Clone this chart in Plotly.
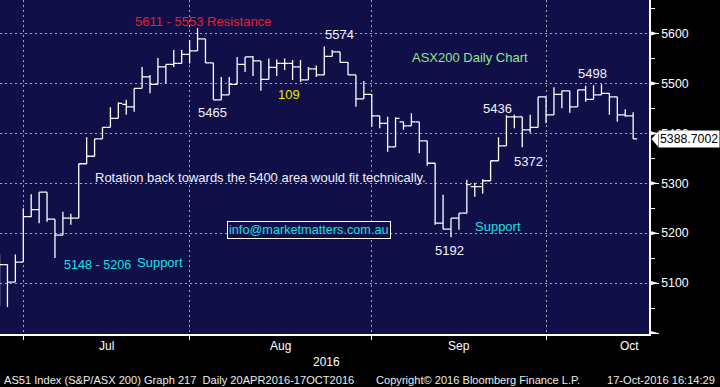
import pandas as pd
import plotly.graph_objects as go

# ---------------- data (ASX200 daily bars) ----------------
dates = [d.strftime("%Y-%m-%d") for d in pd.bdate_range("2016-06-27", "2016-10-17")]

opens = [5085, 5137, 5102, 5142, 5233, 5247, 5282, 5228, 5196, 5230,
         5230, 5339, 5354, 5389, 5412, 5430, 5458, 5453, 5490, 5513,
         5498, 5533, 5538, 5540, 5558, 5565, 5589, 5541, 5467, 5477,
         5498, 5538, 5553, 5545, 5508, 5532, 5540, 5540, 5533, 5507,
         5529, 5517, 5554, 5563, 5542, 5517, 5469, 5478, 5435, 5420,
         5373, 5423, 5415, 5423, 5385, 5340, 5220, 5208, 5230, 5240,
         5293, 5293, 5305, 5345, 5375, 5433, 5433, 5407, 5412, 5473,
         5437, 5478, 5485, 5453, 5487, 5468, 5477, 5480, 5473, 5437,
         5435]
highs = [5157, 5137, 5157, 5250, 5278, 5282, 5282, 5228, 5243, 5239,
         5339, 5392, 5389, 5412, 5452, 5462, 5467, 5490, 5533, 5517,
         5551, 5538, 5567, 5567, 5587, 5611, 5589, 5541, 5513, 5513,
         5553, 5553, 5555, 5545, 5550, 5548, 5550, 5547, 5547, 5533,
         5536, 5574, 5567, 5563, 5543, 5517, 5505, 5478, 5435, 5433,
         5432, 5423, 5440, 5423, 5385, 5340, 5277, 5230, 5240, 5307,
         5301, 5308, 5345, 5392, 5436, 5437, 5433, 5437, 5473, 5473,
         5492, 5485, 5485, 5487, 5495, 5496, 5498, 5480, 5473, 5448,
         5442]
lows = [5053, 5052, 5102, 5142, 5232, 5220, 5223, 5150, 5196, 5217,
        5230, 5339, 5354, 5389, 5412, 5430, 5437, 5443, 5490, 5480,
        5498, 5500, 5533, 5540, 5540, 5565, 5541, 5467, 5467, 5477,
        5498, 5523, 5515, 5485, 5508, 5515, 5527, 5507, 5503, 5507,
        5513, 5517, 5554, 5542, 5517, 5453, 5469, 5413, 5410, 5363,
        5373, 5407, 5415, 5360, 5335, 5217, 5208, 5192, 5207, 5240,
        5273, 5279, 5305, 5345, 5375, 5410, 5372, 5401, 5412, 5420,
        5437, 5450, 5441, 5453, 5463, 5468, 5477, 5437, 5423, 5433,
        5388.7]
closes = [5137, 5102, 5142, 5233, 5247, 5282, 5228, 5196, 5230, 5230,
          5339, 5354, 5389, 5412, 5430, 5460, 5453, 5490, 5513, 5498,
          5533, 5538, 5540, 5558, 5565, 5589, 5541, 5467, 5477, 5498,
          5538, 5553, 5545, 5508, 5532, 5540, 5540, 5533, 5507, 5529,
          5517, 5554, 5563, 5542, 5517, 5469, 5478, 5435, 5420, 5373,
          5430, 5415, 5423, 5385, 5340, 5220, 5208, 5230, 5240, 5297,
          5293, 5305, 5345, 5375, 5433, 5433, 5407, 5412, 5473, 5437,
          5478, 5485, 5453, 5487, 5468, 5477, 5480, 5473, 5437, 5435,
          5388.7]

last_price = 5388.7002
month_ends = ["2016-06-30", "2016-07-29", "2016-08-31", "2016-09-30"]
month_names = ["Jul", "Aug", "Sep", "Oct"]
y_ticks = [5000, 5100, 5200, 5300, 5400, 5500, 5600]
y_ticktext = ["", "5100", "5200", "5300", "5400", "5500", "5600"]

# ---------------- layout helpers ----------------
W, H = 720, 387
PL, PR, PT, PB = 0, 71, 0, 53          # margins
PW, PH = W - PL - PR, H - PT - PB      # plot area size
Y0, Y1 = 4998, 5667
X0, X1 = 0.06, 82.0

def px(x):  # pixel x -> paper
    return (x - PL) / PW

def py(y):  # pixel y -> paper
    return (PT + PH - y) / PH

FONT = "Liberation Sans, Arial, sans-serif"
NAVY = "#100f47"
GRID = "#a4a4b4"

fig = go.Figure()
fig.add_trace(go.Ohlc(
    x=dates, open=opens, high=highs, low=lows, close=closes,
    increasing=dict(line=dict(color="white", width=1.3)),
    decreasing=dict(line=dict(color="white", width=1.3)),
    tickwidth=0.5, showlegend=False, hoverinfo="skip",
))

annotations = []

def ann(text, x, y, color, size=13, xanchor="left", **kw):
    annotations.append(dict(text=text, x=px(x), y=py(y), xref="paper", yref="paper",
                            xanchor=xanchor, yanchor="middle", showarrow=False,
                            font=dict(family=FONT, size=size, color=color), **kw))

WHITE_T = "#f2f2ff"
RED = "#e8202c"
CYAN = "#16e0e8"
ann("5611 - 5553 Resistance", 133, 21, RED)
ann("5465", 196, 113, WHITE_T)
ann("109", 275.5, 94.5, "#e6e600")
ann("5574", 323, 34.5, WHITE_T)
ann("ASX200 Daily Chart", 410, 57.5, "#8ee88e")
ann("5498", 576, 73, WHITE_T)
ann("5436", 481, 108, WHITE_T)
ann("5372", 512, 161.5, WHITE_T)
ann("Rotation back towards the 5400 area would fit technically.", 93, 177, WHITE_T)
ann("info@marketmatters.com.au", 227.3, 229.5, CYAN, size=12.7, bordercolor="white",
    borderwidth=1, borderpad=1, bgcolor=NAVY)
ann("5148 - 5206", 61.5, 264.5, CYAN, size=12.6)
ann("Support", 134.5, 262, CYAN)
ann("5192", 433, 250, WHITE_T)
ann("Support", 473, 226, CYAN)

# month labels centred on each month's span of trading days
full_days = [d.strftime("%Y-%m-%d") for d in pd.bdate_range("2016-06-27", "2016-10-31")]
bounds = [full_days.index(m) for m in month_ends] + [len(full_days) - 1]
for name, a, b in zip(month_names, bounds[:-1], bounds[1:]):
    annotations.append(dict(text=name, x=(a + b) / 2, y=py(346), xref="x", yref="paper",
                            xanchor="center", yanchor="middle", showarrow=False,
                            font=dict(family=FONT, size=12, color="white")))
ann("2016", 326, 362, "white", size=12, xanchor="center")

NB = "\u00a0"
ann("AS51 Index (S&P/ASX 200) Graph 217" + NB * 2 + "Daily 20APR2016-17OCT2016", 1.5, 380,
    "#ececec", size=11.1)
ann("Copyright\u00a9 2016 Bloomberg Finance L.P.", 374, 380, "#ececec", size=11.1)
ann("17-Oct-2016 16:14:29", 717, 380, "#ececec", size=11.1, xanchor="right")

# last price flag
annotations.append(dict(text="5388.7002", x=px(657.5), y=last_price, xref="paper", yref="y",
                        xanchor="left", yanchor="middle", showarrow=False, bgcolor="white",
                        borderpad=1, font=dict(family=FONT, size=12.3, color="black")))

shapes = []
u = (Y1 - Y0) / PH  # price units per pixel
for t in y_ticks:
    shapes.append(dict(type="path", xref="paper", yref="y",
                       path=f"M {px(649)},{t - 2.6*u} L {px(658)},{t} L {px(649)},{t + 2.6*u} Z",
                       fillcolor="white", line=dict(width=0)))
shapes.append(dict(type="path", xref="paper", yref="y",
                   path=f"M {px(651.5)},{last_price} L {px(658)},{last_price + 7.5*u} "
                        f"L {px(658)},{last_price - 7.5*u} Z",
                   fillcolor="white", line=dict(width=0)))

fig.update_layout(
    width=W, height=H,
    margin=dict(l=PL, r=PR, t=PT, b=PB, pad=0),
    paper_bgcolor="black", plot_bgcolor=NAVY,
    annotations=annotations, shapes=shapes,
    xaxis=dict(type="category", range=[X0, X1], rangeslider=dict(visible=False),
               tickmode="array", tickvals=month_ends, ticktext=["", "", "", ""],
               ticks="outside", ticklen=4, tickcolor="white", tickwidth=1,
               showgrid=True, gridcolor=GRID, gridwidth=1, griddash="2px,3px",
               showline=True, linecolor="white", linewidth=1.5, zeroline=False,
               fixedrange=True),
    yaxis=dict(side="right", range=[Y0, Y1], tickmode="array", tickvals=y_ticks,
               ticktext=y_ticktext, ticks="outside", ticklen=8, tickcolor="white",
               tickfont=dict(family=FONT, size=12.3, color="white"),
               showgrid=True, gridcolor=GRID, gridwidth=1, griddash="2px,3px",
               showline=True, linecolor="white", linewidth=1.5, zeroline=False,
               minor=dict(dtick=50, tick0=5000, ticks="outside", ticklen=4,
                          tickcolor="white", showgrid=False),
               fixedrange=True),
)

fig.write_html("out.html", config={"displayModeBar": False},
               post_script="document.body.style.margin='0px';document.body.style.background='black';")
